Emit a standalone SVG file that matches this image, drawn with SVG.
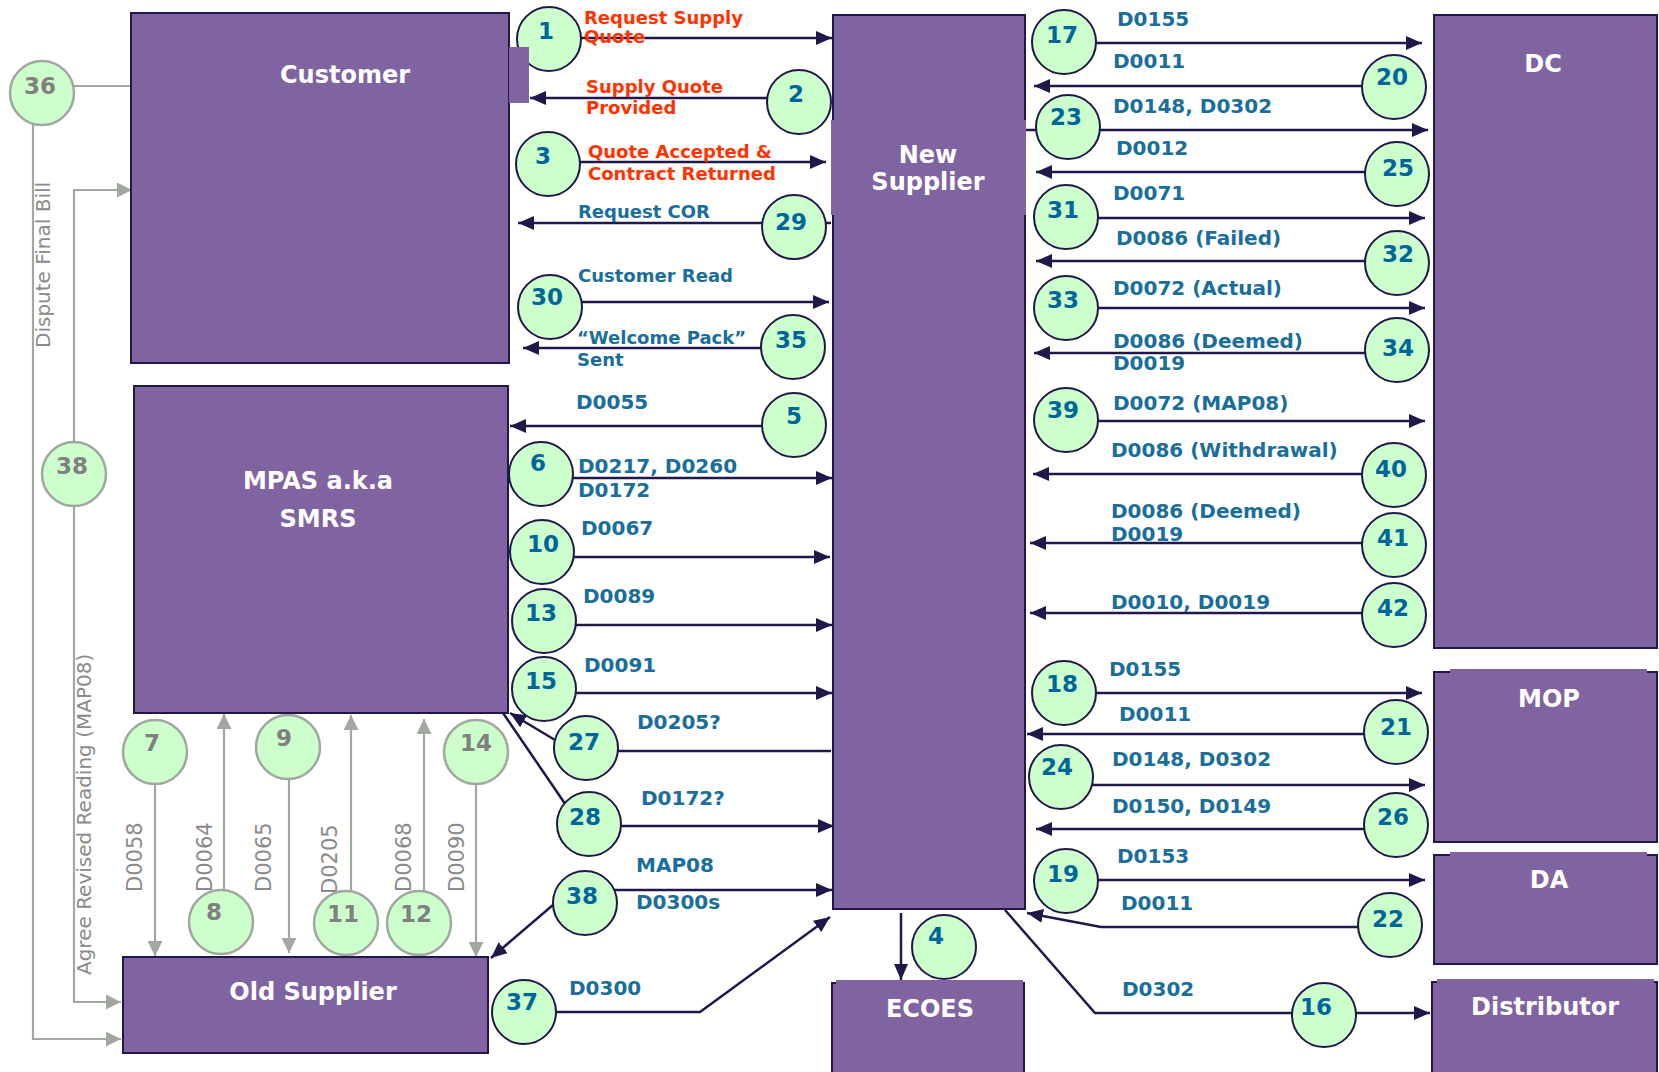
<svg xmlns="http://www.w3.org/2000/svg" width="1659" height="1072" viewBox="0 0 1659 1072">
  <defs>
    <style>
      text { font-family: "DejaVu Sans", Verdana, sans-serif; }
      .box { fill: #8064A2; stroke: #20184A; stroke-width: 2; }
      .cover { fill: #8064A2; stroke: none; }
      .title { fill: #FFFFFF; font-size: 24px; font-weight: bold; text-anchor: middle; }
      .flow { fill: none; stroke: #20184A; stroke-width: 2.5; }
      .arrow { marker-end: url(#ah); }
      .gflow { fill: none; stroke: #A0A8A0; stroke-width: 2.2; }
      .garrow { marker-end: url(#ahg); }
      .lbl { fill: #1A6E9B; font-size: 20px; font-weight: bold; }
      .lbl-s { fill: #1A6E9B; font-size: 18px; font-weight: bold; }
      .red { fill: #FF3300; font-size: 18px; font-weight: bold; }
      .glbl { fill: #8A8A8A; font-size: 20px; }
      .step circle { fill: #CCFFCC; stroke: #20184A; stroke-width: 2; }
      .step text { fill: #006699; font-size: 23px; font-weight: bold; text-anchor: middle; }
      .gstep circle { fill: #CCFFCC; stroke: #A0A8A0; stroke-width: 2.5; }
      .gstep text { fill: #808080; font-size: 23px; font-weight: bold; text-anchor: middle; }
    </style>
    <marker id="ah" markerUnits="userSpaceOnUse" markerWidth="16" markerHeight="14" refX="16" refY="7" orient="auto">
      <path d="M0,0 L16,7 L0,14 z" fill="#20184A"/>
    </marker>
    <marker id="ahg" markerUnits="userSpaceOnUse" markerWidth="15" markerHeight="15" refX="15" refY="7.5" orient="auto">
      <path d="M0,0 L15,7.5 L0,15 z" fill="#A0A8A0"/>
    </marker>
  </defs>

  <rect width="1659" height="1072" fill="#FFFFFF"/>

  <!-- message flows -->
  <g id="connectors">
    <!-- Customer <-> New Supplier -->
    <path class="flow arrow" d="M549,38 H832"/>
    <path class="flow arrow" d="M799,98 H530"/>
    <path class="flow arrow" d="M548,162 H826"/>
    <path class="flow arrow" d="M831,223 H518"/>
    <path class="flow arrow" d="M550,302 H829"/>
    <path class="flow arrow" d="M793,348 H523"/>
    <text class="red" x="584" y="24">Request Supply</text>
    <text class="red" x="584" y="43">Quote</text>
    <text class="red" x="586" y="93">Supply Quote</text>
    <text class="red" x="586" y="114">Provided</text>
    <text class="red" x="588" y="158">Quote Accepted &amp;</text>
    <text class="red" x="588" y="180">Contract Returned</text>
    <text class="lbl-s" x="578" y="218">Request COR</text>
    <text class="lbl-s" x="578" y="282">Customer Read</text>
    <text class="lbl-s" x="577" y="344">“Welcome Pack”</text>
    <text class="lbl-s" x="577" y="366">Sent</text>

    <!-- MPAS <-> New Supplier -->
    <path class="flow arrow" d="M794,426 H510"/>
    <path class="flow arrow" d="M541,478 H832"/>
    <path class="flow arrow" d="M542,557 H830"/>
    <path class="flow arrow" d="M544,625 H832"/>
    <path class="flow arrow" d="M544,693 H832"/>
    <path class="flow" d="M586,751 H831"/>
    <path class="flow arrow" d="M560,743 L510,713"/>
    <path class="flow arrow" d="M589,826 H834"/>
    <path class="flow" d="M503,713 L570,811"/>
    <text class="lbl" x="576" y="409">D0055</text>
    <text class="lbl" x="578" y="473">D0217, D0260</text>
    <text class="lbl" x="578" y="497">D0172</text>
    <text class="lbl" x="581" y="535">D0067</text>
    <text class="lbl" x="583" y="603">D0089</text>
    <text class="lbl" x="584" y="672">D0091</text>
    <text class="lbl" x="637" y="729">D0205?</text>
    <text class="lbl" x="641" y="805">D0172?</text>

    <!-- Old Supplier <-> New Supplier -->
    <path class="flow arrow" d="M585,890 H832"/>
    <path class="flow arrow" d="M560,899 L491,958"/>
    <path class="flow arrow" d="M524,1012 H700 L830,917"/>
    <text class="lbl" x="636" y="872">MAP08</text>
    <text class="lbl" x="636" y="909">D0300s</text>
    <text class="lbl" x="569" y="995">D0300</text>

    <!-- New Supplier -> ECOES / Distributor -->
    <path class="flow arrow" d="M901,913 V980"/>
    <path class="flow arrow" d="M1005,910 L1095,1013 H1430"/>
    <text class="lbl" x="1122" y="996">D0302</text>

    <!-- New Supplier <-> DC -->
    <path class="flow arrow" d="M1064,43 H1422"/>
    <path class="flow arrow" d="M1394,86 H1034"/>
    <path class="flow arrow" d="M1026,130 H1428"/>
    <path class="flow arrow" d="M1397,172 H1036"/>
    <path class="flow arrow" d="M1066,218 H1425"/>
    <path class="flow arrow" d="M1397,261 H1036"/>
    <path class="flow arrow" d="M1066,308 H1425"/>
    <path class="flow arrow" d="M1397,353 H1034"/>
    <path class="flow arrow" d="M1066,421 H1425"/>
    <path class="flow arrow" d="M1394,474 H1033"/>
    <path class="flow arrow" d="M1394,543 H1030"/>
    <path class="flow arrow" d="M1394,613 H1030"/>
    <text class="lbl" x="1117" y="26">D0155</text>
    <text class="lbl" x="1113" y="68">D0011</text>
    <text class="lbl" x="1113" y="113">D0148, D0302</text>
    <text class="lbl" x="1116" y="155">D0012</text>
    <text class="lbl" x="1113" y="200">D0071</text>
    <text class="lbl" x="1116" y="245">D0086 (Failed)</text>
    <text class="lbl" x="1113" y="295">D0072 (Actual)</text>
    <text class="lbl" x="1113" y="348">D0086 (Deemed)</text>
    <text class="lbl" x="1113" y="370">D0019</text>
    <text class="lbl" x="1113" y="410">D0072 (MAP08)</text>
    <text class="lbl" x="1111" y="457">D0086 (Withdrawal)</text>
    <text class="lbl" x="1111" y="518">D0086 (Deemed)</text>
    <text class="lbl" x="1111" y="541">D0019</text>
    <text class="lbl" x="1111" y="609">D0010, D0019</text>

    <!-- New Supplier <-> MOP / DA -->
    <path class="flow arrow" d="M1064,693 H1422"/>
    <path class="flow arrow" d="M1396,734 H1027"/>
    <path class="flow arrow" d="M1061,785 H1425"/>
    <path class="flow arrow" d="M1396,829 H1036"/>
    <path class="flow arrow" d="M1066,880 H1425"/>
    <path class="flow arrow" d="M1390,927 H1101 L1027,913"/>
    <text class="lbl" x="1109" y="676">D0155</text>
    <text class="lbl" x="1119" y="721">D0011</text>
    <text class="lbl" x="1112" y="766">D0148, D0302</text>
    <text class="lbl" x="1112" y="813">D0150, D0149</text>
    <text class="lbl" x="1117" y="863">D0153</text>
    <text class="lbl" x="1121" y="910">D0011</text>

    <!-- Old Supplier side flows -->
    <path class="gflow" d="M42,86 H131"/>
    <path class="gflow garrow" d="M33,115 V1039 H121"/>
    <path class="gflow garrow" d="M74,460 V190 H132"/>
    <path class="gflow garrow" d="M74,490 V1002 H121"/>
    <path class="gflow garrow" d="M155,752 V956"/>
    <path class="gflow garrow" d="M224,922 V714"/>
    <path class="gflow garrow" d="M289,747 V953"/>
    <path class="gflow garrow" d="M351,923 V715"/>
    <path class="gflow garrow" d="M424,923 V719"/>
    <path class="gflow garrow" d="M476,752 V957"/>
    <text class="glbl" transform="translate(50,348) rotate(-90)">Dispute Final Bill</text>
    <text class="glbl" transform="translate(91,975) rotate(-90)">Agree Revised Reading (MAP08)</text>
    <text class="glbl" style="font-size:21px" transform="translate(142,892) rotate(-90)">D0058</text>
    <text class="glbl" style="font-size:21px" transform="translate(212,892) rotate(-90)">D0064</text>
    <text class="glbl" style="font-size:21px" transform="translate(271,892) rotate(-90)">D0065</text>
    <text class="glbl" style="font-size:21px" transform="translate(337,894) rotate(-90)">D0205</text>
    <text class="glbl" style="font-size:21px" transform="translate(411,892) rotate(-90)">D0068</text>
    <text class="glbl" style="font-size:21px" transform="translate(464,892) rotate(-90)">D0090</text>
  </g>

  <!-- numbered steps -->
  <g id="steps">
    <g id="step-1" class="step"><circle cx="549" cy="39" r="32"/><text x="546" y="39">1</text></g>
    <g id="step-2" class="step"><circle cx="799" cy="102" r="32"/><text x="796" y="102">2</text></g>
    <g id="step-3" class="step"><circle cx="548" cy="164" r="32"/><text x="543" y="164">3</text></g>
    <g id="step-29" class="step"><circle cx="794" cy="227" r="32"/><text x="791" y="230">29</text></g>
    <g id="step-30" class="step"><circle cx="550" cy="307" r="32"/><text x="547" y="305">30</text></g>
    <g id="step-35" class="step"><circle cx="793" cy="347" r="32"/><text x="791" y="348">35</text></g>
    <g id="step-5" class="step"><circle cx="794" cy="425" r="32"/><text x="794" y="424">5</text></g>
    <g id="step-6" class="step"><circle cx="541" cy="474" r="32"/><text x="538" y="471">6</text></g>
    <g id="step-10" class="step"><circle cx="542" cy="552" r="32"/><text x="543" y="552">10</text></g>
    <g id="step-13" class="step"><circle cx="544" cy="621" r="32"/><text x="541" y="621">13</text></g>
    <g id="step-15" class="step"><circle cx="544" cy="689" r="32"/><text x="541" y="689">15</text></g>
    <g id="step-27" class="step"><circle cx="586" cy="748" r="32"/><text x="584" y="750">27</text></g>
    <g id="step-28" class="step"><circle cx="589" cy="824" r="32"/><text x="585" y="825">28</text></g>
    <g id="step-38" class="step"><circle cx="585" cy="903" r="32"/><text x="582" y="904">38</text></g>
    <g id="step-37" class="step"><circle cx="524" cy="1012" r="32"/><text x="522" y="1010">37</text></g>
    <g id="step-4" class="step"><circle cx="944" cy="947" r="32"/><text x="936" y="944">4</text></g>
    <g id="step-16" class="step"><circle cx="1324" cy="1015" r="32"/><text x="1316" y="1015">16</text></g>
    <g id="step-17" class="step"><circle cx="1064" cy="42" r="32"/><text x="1062" y="43">17</text></g>
    <g id="step-20" class="step"><circle cx="1394" cy="87" r="32"/><text x="1392" y="85">20</text></g>
    <g id="step-23" class="step"><circle cx="1068" cy="127" r="32"/><text x="1066" y="125">23</text></g>
    <g id="step-25" class="step"><circle cx="1397" cy="174" r="32"/><text x="1398" y="176">25</text></g>
    <g id="step-31" class="step"><circle cx="1066" cy="217" r="32"/><text x="1063" y="218">31</text></g>
    <g id="step-32" class="step"><circle cx="1397" cy="263" r="32"/><text x="1398" y="262">32</text></g>
    <g id="step-33" class="step"><circle cx="1066" cy="308" r="32"/><text x="1063" y="308">33</text></g>
    <g id="step-34" class="step"><circle cx="1397" cy="350" r="32"/><text x="1398" y="356">34</text></g>
    <g id="step-39" class="step"><circle cx="1066" cy="420" r="32"/><text x="1063" y="418">39</text></g>
    <g id="step-40" class="step"><circle cx="1394" cy="475" r="32"/><text x="1391" y="477">40</text></g>
    <g id="step-41" class="step"><circle cx="1394" cy="545" r="32"/><text x="1393" y="546">41</text></g>
    <g id="step-42" class="step"><circle cx="1394" cy="615" r="32"/><text x="1393" y="616">42</text></g>
    <g id="step-18" class="step"><circle cx="1064" cy="693" r="32"/><text x="1062" y="692">18</text></g>
    <g id="step-21" class="step"><circle cx="1396" cy="732" r="32"/><text x="1396" y="735">21</text></g>
    <g id="step-24" class="step"><circle cx="1061" cy="777" r="32"/><text x="1057" y="775">24</text></g>
    <g id="step-26" class="step"><circle cx="1396" cy="825" r="32"/><text x="1393" y="825">26</text></g>
    <g id="step-19" class="step"><circle cx="1066" cy="881" r="32"/><text x="1063" y="882">19</text></g>
    <g id="step-22" class="step"><circle cx="1390" cy="925" r="32"/><text x="1388" y="927">22</text></g>

    <g id="step-36" class="gstep"><circle cx="42" cy="93" r="32"/><text x="40" y="94">36</text></g>
    <g id="step-38-agree" class="gstep"><circle cx="74" cy="474" r="32"/><text x="72" y="474">38</text></g>
    <g id="step-7" class="gstep"><circle cx="155" cy="752" r="32"/><text x="152" y="751">7</text></g>
    <g id="step-8" class="gstep"><circle cx="221" cy="922" r="32"/><text x="214" y="920">8</text></g>
    <g id="step-9" class="gstep"><circle cx="288" cy="747" r="32"/><text x="284" y="746">9</text></g>
    <g id="step-11" class="gstep"><circle cx="346" cy="923" r="32"/><text x="343" y="922">11</text></g>
    <g id="step-12" class="gstep"><circle cx="419" cy="923" r="32"/><text x="416" y="922">12</text></g>
    <g id="step-14" class="gstep"><circle cx="476" cy="752" r="32"/><text x="476" y="751">14</text></g>
  </g>

  <!-- parties -->
  <g id="customer">
    <rect class="box" x="131" y="13" width="378" height="350"/>
    <rect class="cover" x="509" y="47" width="20" height="56"/>
    <text class="title" x="345" y="83">Customer</text>
  </g>
  <g id="mpas">
    <rect class="box" x="134" y="386" width="374" height="327"/>
    <text class="title" x="318" y="489">MPAS a.k.a</text>
    <text class="title" x="318" y="527">SMRS</text>
  </g>
  <g id="old-supplier">
    <rect class="box" x="123" y="957" width="365" height="96"/>
    <text class="title" x="313" y="1000">Old Supplier</text>
  </g>
  <g id="new-supplier">
    <rect class="box" x="833" y="15" width="192" height="894"/>
    <rect class="cover" x="831" y="120" width="195" height="95"/>
    <text class="title" x="928" y="163">New</text>
    <text class="title" x="928" y="190">Supplier</text>
  </g>
  <g id="ecoes">
    <rect class="box" x="832" y="983" width="192" height="100"/>
    <rect class="cover" x="836" y="980" width="187" height="5"/>
    <text class="title" x="930" y="1017">ECOES</text>
  </g>
  <g id="dc">
    <rect class="box" x="1434" y="15" width="223" height="633"/>
    <text class="title" x="1543" y="72">DC</text>
  </g>
  <g id="mop">
    <rect class="box" x="1434" y="672" width="223" height="170"/>
    <rect class="cover" x="1450" y="669" width="197" height="5"/>
    <text class="title" x="1549" y="707">MOP</text>
  </g>
  <g id="da">
    <rect class="box" x="1434" y="855" width="223" height="109"/>
    <rect class="cover" x="1450" y="852" width="197" height="5"/>
    <text class="title" x="1549" y="888">DA</text>
  </g>
  <g id="distributor">
    <rect class="box" x="1432" y="982" width="225" height="100"/>
    <rect class="cover" x="1437" y="979" width="217" height="5"/>
    <text class="title" x="1545" y="1015">Distributor</text>
  </g>
</svg>
